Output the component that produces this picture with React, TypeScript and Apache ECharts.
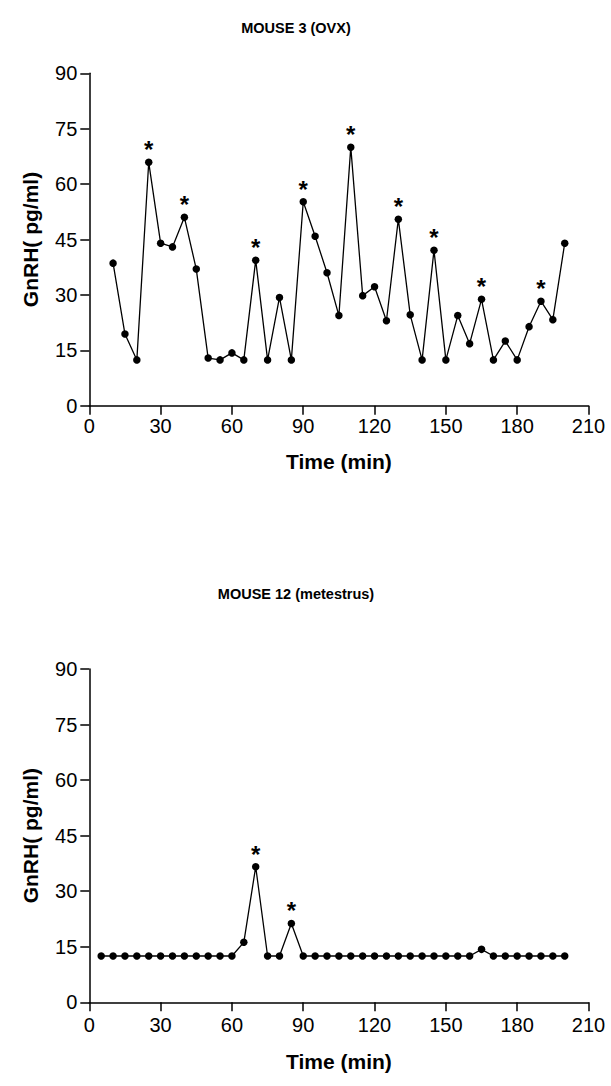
import React, { useEffect, useRef } from "react";
import * as echarts from "echarts";

const times1 = [10, 15, 20, 25, 30, 35, 40, 45, 50, 55, 60, 65, 70, 75, 80, 85, 90, 95, 100, 105, 110, 115, 120, 125, 130, 135, 140, 145, 150, 155, 160, 165, 170, 175, 180, 185, 190, 195, 200];
const gnrh1 = [38.6, 19.4, 12.4, 65.9, 44.0, 43.0, 51.0, 37.0, 12.9, 12.4, 14.3, 12.4, 39.4, 12.4, 29.3, 12.4, 55.2, 45.9, 36.0, 24.4, 70.0, 29.8, 32.2, 23.0, 50.5, 24.6, 12.4, 42.1, 12.4, 24.4, 16.8, 28.8, 12.4, 17.5, 12.4, 21.4, 28.3, 23.3, 44.0];
const pulses1 = [25, 40, 70, 90, 110, 130, 145, 165, 190];

const times2 = [5, 10, 15, 20, 25, 30, 35, 40, 45, 50, 55, 60, 65, 70, 75, 80, 85, 90, 95, 100, 105, 110, 115, 120, 125, 130, 135, 140, 145, 150, 155, 160, 165, 170, 175, 180, 185, 190, 195, 200];
const gnrh2 = [12.5, 12.5, 12.5, 12.5, 12.5, 12.5, 12.5, 12.5, 12.5, 12.5, 12.5, 12.5, 16.2, 36.6, 12.5, 12.5, 21.3, 12.5, 12.5, 12.5, 12.5, 12.5, 12.5, 12.5, 12.5, 12.5, 12.5, 12.5, 12.5, 12.5, 12.5, 12.5, 14.3, 12.5, 12.5, 12.5, 12.5, 12.5, 12.5, 12.5];
const pulses2 = [70, 85];

const titles = ["MOUSE 3 (OVX)", "MOUSE 12 (metestrus)"];
const xName = "Time (min)";
const yName = "GnRH( pg/ml)";

const FONT = "Liberation Sans, Arial, sans-serif";

function buildData(times: number[], vals: number[], pulses: number[]) {
  return times.map((t, i) => {
    const item: any = { value: [t, vals[i]] };
    if (pulses.includes(t)) {
      item.label = {
        show: true,
        formatter: "*",
        position: "top",
        distance: -3,
        fontSize: 24,
        fontWeight: "bold",
        color: "#000",
        fontFamily: FONT,
      };
    }
    return item;
  });
}

function xAxis(gridIndex: number, margin: number, nameGap: number) {
  return {
    type: "value",
    gridIndex,
    min: 0,
    max: 210,
    interval: 30,
    name: xName,
    nameLocation: "middle",
    nameGap,
    nameTextStyle: { fontSize: 21, fontWeight: "bold", color: "#000", fontFamily: FONT },
    axisLine: { show: true, lineStyle: { color: "#000", width: 1.5 } },
    axisTick: { show: true, inside: false, length: 9, lineStyle: { color: "#000", width: 1.5 } },
    axisLabel: { fontSize: 20, color: "#000", fontFamily: FONT, margin },
    splitLine: { show: false },
  };
}

function yAxis(gridIndex: number) {
  return {
    type: "value",
    gridIndex,
    min: 0,
    max: 90,
    interval: 15,
    name: yName,
    nameLocation: "middle",
    nameGap: 48,
    nameTextStyle: { fontSize: 21, fontWeight: "bold", color: "#000", fontFamily: FONT },
    axisLine: { show: true, lineStyle: { color: "#000", width: 1.5 } },
    axisTick: { show: true, inside: false, length: 9, lineStyle: { color: "#000", width: 1.5 } },
    axisLabel: { fontSize: 20, color: "#000", fontFamily: FONT, margin: 12 },
    splitLine: { show: false },
  };
}

export default function App() {
  const ref = useRef<HTMLDivElement>(null);
  useEffect(() => {
    if (!ref.current) return;
    const chart = echarts.init(ref.current, null, { renderer: "svg" });
    const series = [
      { data: buildData(times1, gnrh1, pulses1), idx: 0 },
      { data: buildData(times2, gnrh2, pulses2), idx: 1 },
    ].map((s) => ({
      type: "line",
      xAxisIndex: s.idx,
      yAxisIndex: s.idx,
      data: s.data,
      symbol: "circle",
      symbolSize: 7.5,
      showAllSymbol: true,
      lineStyle: { color: "#000", width: 1.3 },
      itemStyle: { color: "#000" },
    }));
    chart.setOption({
      animation: false,
      backgroundColor: "#fff",
      title: [
        {
          text: titles[0],
          left: 291,
          top: 15,
          textAlign: "center",
          textStyle: { fontSize: 14.5, fontWeight: "bold", color: "#000", fontFamily: FONT },
        },
        {
          text: titles[1],
          left: 291,
          top: 581,
          textAlign: "center",
          textStyle: { fontSize: 14.5, fontWeight: "bold", color: "#000", fontFamily: FONT },
        },
      ],
      grid: [
        { left: 89.3, width: 499.2, top: 73.3, height: 332.4, containLabel: false },
        { left: 89.3, width: 499.2, top: 669, height: 333.3, containLabel: false },
      ],
      xAxis: [xAxis(0, 10, 45), xAxis(1, 13, 49)],
      yAxis: [yAxis(0), yAxis(1)],
      series,
    });
    return () => chart.dispose();
  }, []);
  return (
    <div
      ref={ref}
      style={{ position: "absolute", left: 0, top: 0, width: 611, height: 1086, background: "#fff" }}
    />
  );
}
